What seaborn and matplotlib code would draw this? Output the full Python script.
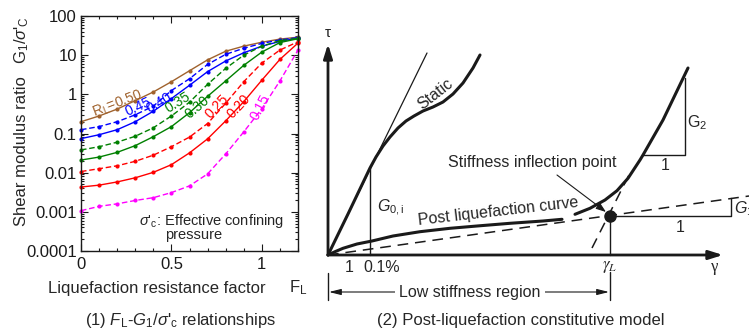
import numpy as np
import pandas as pd
import matplotlib
matplotlib.use("Agg")
import matplotlib.pyplot as plt
import seaborn as sns
from matplotlib.ticker import LogLocator, MultipleLocator, FixedLocator, FixedFormatter, NullFormatter

# ---------------- data (left panel) ----------------
FL = [0.0, 0.1, 0.2, 0.3, 0.4, 0.5, 0.6, 0.7, 0.8, 0.9, 1.0, 1.1, 1.2]
G_050 = [0.20, 0.28, 0.42, 0.69, 1.15, 2.1, 4.0, 7.6, 12.6, 17, 21.4, 25.7, 28.8]
G_045 = [0.125, 0.15, 0.20, 0.30, 0.50, 1.25, 2.5, 5.8, 10.5, 15, 20, 24.5, 28]
G_040 = [0.074, 0.093, 0.125, 0.20, 0.37, 0.78, 1.7, 3.8, 7.1, 11.5, 17, 22.4, 27.5]
G_035 = [0.038, 0.046, 0.060, 0.085, 0.14, 0.28, 0.63, 1.8, 4.6, 10, 17, 23.4, 27]
G_030 = [0.021, 0.025, 0.033, 0.049, 0.083, 0.15, 0.34, 0.89, 2.2, 5.5, 12, 21, 26.3]
G_025 = [0.0107, 0.0126, 0.015, 0.0195, 0.028, 0.046, 0.081, 0.18, 0.59, 2.1, 6.3, 13.5, 22]
G_020 = [0.0043, 0.0048, 0.0058, 0.0074, 0.0102, 0.016, 0.032, 0.073, 0.21, 0.65, 2.3, 7.8, 20.4]
G_015 = [0.00107, 0.00138, 0.0016, 0.00195, 0.0023, 0.0031, 0.0046, 0.0093, 0.030, 0.11, 0.43, 2.2, 13.5]

RL_labels = ["0.50", "0.45", "0.40", "0.35", "0.30", "0.25", "0.20", "0.15"]
series = [G_050, G_045, G_040, G_035, G_030, G_025, G_020, G_015]
colors = ["#A0622D", "#0000FF", "#0000FF", "#008000", "#008000", "#FF0000", "#FF0000", "#FF00FF"]
solid = [True, False, True, False, True, False, True, False]

yticks = [1e-4, 1e-3, 1e-2, 1e-1, 1, 10, 100]
ytick_labels = ["0.0001", "0.001", "0.01", "0.1", "1", "10", "100"]
xticks = [0, 0.5, 1]
xtick_labels = ["0", "0.5", "1"]

# curve label positions (F_L, G) and rotations
lab_pos = [(0.20, 0.58), (0.315, 0.48), (0.43, 0.62), (0.535, 0.62),
           (0.645, 0.48), (0.755, 0.48), (0.87, 0.50), (0.99, 0.46)]
lab_rot = [21, 24, 30, 32, 40, 46, 47, 62]

# ---------------- data (right panel, schematic) ----------------
tangent_x = [0, 99]
tangent_y = [0, 202]
static_x = [0, 20, 42, 48, 55, 62, 70, 78, 86, 95, 105, 115, 125, 135, 145, 152]
static_y = [0, 41, 87, 98, 109, 118, 127, 134, 139, 144, 148, 153, 161, 172, 187, 200]
post_lo_x = [0, 7, 15, 29, 44, 65, 92, 122, 149, 182, 215, 234]
post_lo_y = [0, 3.3, 6.7, 11, 14, 19, 23.3, 26.7, 29, 31.7, 34, 35.7]
post_hi_x = [247, 262, 277, 289, 300, 312, 315, 335, 360]
post_hi_y = [40.7, 46.7, 55, 64.3, 76.7, 95, 100, 135, 187]
g1_x = [0, 421]
g1_y = [0, 59]
g2t_x = [264, 302]
g2t_y = [7, 82]
inflect = (282, 39)

# ---------------- style ----------------
sns.set_theme(style="ticks")
plt.rcParams["font.family"] = ["Liberation Sans", "DejaVu Sans"]
plt.rcParams["mathtext.fontset"] = "custom"
plt.rcParams["mathtext.rm"] = "Liberation Sans"
plt.rcParams["mathtext.it"] = "Liberation Sans:italic"
plt.rcParams["mathtext.bf"] = "Liberation Sans:bold"
plt.rcParams["axes.linewidth"] = 1.0

fig = plt.figure(figsize=(7.49, 3.31), dpi=100)

# ================= left panel =================
ax1 = fig.add_axes([81 / 749, 1 - 251 / 331, 217 / 749, 235 / 331])
rows = []
for lab, vals in zip(RL_labels, series):
    for f, g in zip(FL, vals):
        rows.append({"FL": f, "G": g, "RL": lab})
df = pd.DataFrame(rows)
palette = dict(zip(RL_labels, colors))
dashes = {lab: ("" if s else (4, 2)) for lab, s in zip(RL_labels, solid)}
markers = {lab: "o" for lab in RL_labels}
sns.lineplot(data=df, x="FL", y="G", hue="RL", style="RL", palette=palette,
             dashes=dashes, markers=markers, markersize=3, markeredgewidth=0,
             linewidth=1.0, legend=False, ax=ax1, clip_on=False)

ax1.set_yscale("log")
ax1.set_xlim(0, 1.2)
ax1.set_ylim(1e-4, 100)
ax1.yaxis.set_major_locator(FixedLocator(yticks))
ax1.yaxis.set_major_formatter(FixedFormatter(ytick_labels))
ax1.yaxis.set_minor_locator(LogLocator(base=10, subs=np.arange(2, 10)))
ax1.yaxis.set_minor_formatter(NullFormatter())
ax1.xaxis.set_major_locator(FixedLocator(xticks))
ax1.xaxis.set_major_formatter(FixedFormatter(xtick_labels))
ax1.xaxis.set_minor_locator(MultipleLocator(0.1))
ax1.tick_params(which="both", direction="in", top=True, right=True, colors="k",
                labelsize=12, width=0.8)
ax1.tick_params(which="major", length=5)
ax1.tick_params(which="minor", length=2.5)
ax1.tick_params(axis="x", pad=4)
ax1.tick_params(axis="y", pad=3)
ax1.set_xlabel("")
ax1.set_ylabel("")
for s in ax1.spines.values():
    s.set_color("k")

for (lab, c), (px, py), rot in zip(zip(RL_labels, colors), lab_pos, lab_rot):
    txt = ("R$_\\mathrm{L}$=" + lab) if lab == "0.50" else lab
    ax1.text(px, py, txt, color=c, fontsize=10, rotation=rot,
             ha="center", va="center", rotation_mode="anchor")

ax1.text(0.724, 6.0e-4, r"$\sigma$'$_\mathrm{c}$: Effective confining", fontsize=10.5,
         ha="center", va="center")
ax1.text(0.62, 2.5e-4, "pressure", fontsize=10.5, ha="center", va="center")

fig.text(157 / 749, 1 - 288 / 331, "Liquefaction resistance factor", fontsize=12,
         ha="center", va="center")
fig.text(298 / 749, 1 - 288 / 331, r"F$_\mathrm{L}$", fontsize=12, ha="center", va="center")
fig.text(22 / 749, 1 - 151 / 331, "Shear modulus ratio", fontsize=12, rotation=90,
         ha="center", va="center")
fig.text(22 / 749, 1 - 40 / 331, r"G$_1$/$\sigma$'$_\mathrm{C}$", fontsize=12, rotation=90,
         ha="center", va="center")
fig.text(180 / 749, 1 - 321 / 331,
         r"(1) $F_\mathrm{L}$-$G_1$/$\sigma$'$_\mathrm{c}$ relationships",
         fontsize=12, ha="center", va="center")

# ================= right panel =================
ax2 = fig.add_axes([310 / 749, 0, 439 / 749, 1])
ax2.set_xlim(-18, 421)
ax2.set_ylim(-76, 255)
ax2.axis("off")

k = "k"
arw = dict(arrowstyle="-|>,head_length=0.7,head_width=0.22", lw=2.0, color=k,
           shrinkA=0, shrinkB=0)
ax2.annotate("", xy=(0, 211), xytext=(0, 0), arrowprops=arw)
ax2.annotate("", xy=(395, 0), xytext=(0, 0), arrowprops=arw)

ax2.plot(tangent_x, tangent_y, color=k, lw=0.9)
ax2.plot(static_x, static_y, color=k, lw=2.2, solid_capstyle="round")
ax2.plot([static_x[2], static_x[2]], [0, static_y[2]], color=k, lw=1.0)
ax2.plot(post_lo_x, post_lo_y, color=k, lw=2.2, solid_capstyle="round")
ax2.plot(post_hi_x, post_hi_y, color=k, lw=2.2, solid_capstyle="round")
ax2.plot(g1_x, g1_y, color=k, lw=1.1, ls=(0, (7, 4.5)))
ax2.plot(g2t_x, g2t_y, color=k, lw=1.1, ls=(0, (7, 4.5)))
ax2.plot([inflect[0]], [inflect[1]], "o", color=k, ms=8)
ax2.plot([inflect[0], inflect[0]], [0, inflect[1]], color=k, lw=1.0)
ax2.plot([inflect[0], 403, 403], [inflect[1], inflect[1], 57.5], color=k, lw=1.0)
ax2.plot([315, 357, 357], [100, 100, 177], color=k, lw=1.0)
ax2.plot([0, 0], [-18, -45], color=k, lw=1.0)
ax2.plot([inflect[0], inflect[0]], [-17, -45], color=k, lw=1.0)

ax2.annotate("", xy=(1, -37), xytext=(281, -37),
             arrowprops=dict(arrowstyle="<|-|>,head_length=0.6,head_width=0.15",
                             lw=0.8, color=k, shrinkA=0, shrinkB=0))
ax2.text(142, -37, "Low stiffness region", fontsize=11.5, ha="center", va="center",
         bbox=dict(facecolor="white", edgecolor="none", pad=3))

ax2.annotate("", xy=(278, 43), xytext=(229, 80),
             arrowprops=dict(arrowstyle="-|>,head_length=0.5,head_width=0.18",
                             lw=0.8, color=k, shrinkA=0, shrinkB=0))
ax2.text(204, 93, "Stiffness inflection point", fontsize=11.5, ha="center", va="center")
ax2.text(170, 44, "Post liquefaction curve", fontsize=11.5, ha="center", va="center",
         rotation=6.5, rotation_mode="anchor")
ax2.text(107, 161, "Static", fontsize=11.5, ha="center", va="center", rotation=38,
         rotation_mode="anchor")

ax2.text(0, 222, "τ", fontsize=11, ha="center", va="center")
ax2.text(387, -12, "γ", fontsize=12, ha="center", va="center", family="Liberation Serif")
ax2.text(282, -12, r"$\gamma_L$", fontsize=12, ha="center", va="center", math_fontfamily="stix")
ax2.text(21, -12, "1", fontsize=11.5, ha="center", va="center")
ax2.text(54, -12, "0.1%", fontsize=11.5, ha="center", va="center")
ax2.text(49, 47, r"$G_{0,\mathrm{i}}$", fontsize=11.5, ha="left", va="center")
ax2.text(359, 132, r"G$_2$", fontsize=11.5, ha="left", va="center")
ax2.text(337, 90, "1", fontsize=11.5, ha="center", va="center")
ax2.text(406, 46, r"$G_1$", fontsize=11.5, ha="left", va="center")
ax2.text(352, 28, "1", fontsize=11.5, ha="center", va="center")

fig.text(521 / 749, 1 - 321 / 331, "(2) Post-liquefaction constitutive model",
         fontsize=12, ha="center", va="center")

fig.savefig("out.png", dpi=100)
